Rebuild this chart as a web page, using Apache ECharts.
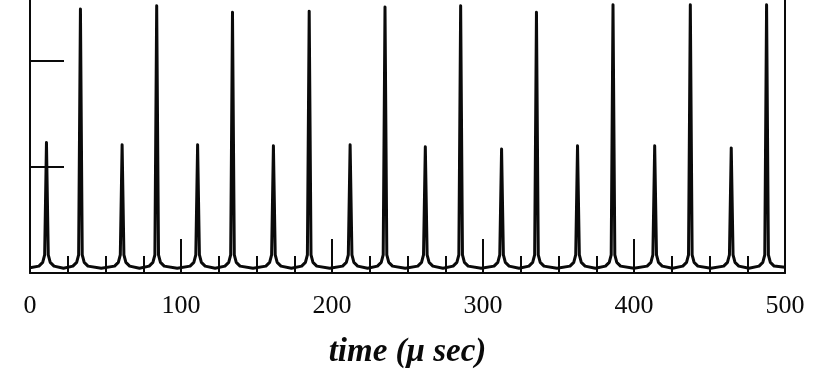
<!DOCTYPE html>
<html>
<head>
<meta charset="utf-8">
<script src="https://cdn.jsdelivr.net/npm/echarts@6/dist/echarts.min.js"></script>
<style>html,body{margin:0;padding:0;background:#fff}#c{width:825px;height:386px}</style>
</head>
<body>
<div id="c"></div>
<script>
// x tick labels (microseconds)
var xTicks = [0, 100, 200, 300, 400, 500];
// y tick positions (unlabelled)
var yTicks = [1, 2];
// Trace: [time (us), signal]
var trace = [
  [0, 0.05],
  [5.9, 0.065], [8.4, 0.10], [9.7, 0.17], [10.9, 1.23], [12.1, 0.17], [13.4, 0.10], [15.9, 0.065],
  [22.2, 0.045],
  [28.4, 0.065], [30.9, 0.10], [32.2, 0.17], [33.4, 2.49], [34.6, 0.17], [35.9, 0.10], [38.4, 0.065],
  [47.2, 0.045],
  [56.0, 0.065], [58.5, 0.10], [59.8, 0.17], [61.0, 1.21], [62.2, 0.17], [63.5, 0.10], [66.0, 0.065],
  [72.5, 0.045],
  [78.9, 0.065], [81.4, 0.10], [82.7, 0.17], [83.9, 2.52], [85.1, 0.17], [86.4, 0.10], [88.9, 0.065],
  [97.5, 0.045],
  [106.0, 0.065], [108.5, 0.10], [109.8, 0.17], [111.0, 1.21], [112.2, 0.17], [113.5, 0.10], [116.0, 0.065],
  [122.6, 0.045],
  [129.1, 0.065], [131.6, 0.10], [132.9, 0.17], [134.1, 2.46], [135.3, 0.17], [136.6, 0.10], [139.1, 0.065],
  [147.7, 0.045],
  [156.2, 0.065], [158.7, 0.10], [160.0, 0.17], [161.2, 1.20], [162.4, 0.17], [163.7, 0.10], [166.2, 0.065],
  [173.1, 0.045],
  [179.9, 0.065], [182.4, 0.10], [183.7, 0.17], [184.9, 2.47], [186.1, 0.17], [187.4, 0.10], [189.9, 0.065],
  [198.5, 0.045],
  [207.0, 0.065], [209.5, 0.10], [210.8, 0.17], [212.0, 1.21], [213.2, 0.17], [214.5, 0.10], [217.0, 0.065],
  [223.6, 0.045],
  [230.1, 0.065], [232.6, 0.10], [233.9, 0.17], [235.1, 2.51], [236.3, 0.17], [237.6, 0.10], [240.1, 0.065],
  [248.5, 0.045],
  [256.8, 0.065], [259.3, 0.10], [260.6, 0.17], [261.8, 1.19], [263.0, 0.17], [264.3, 0.10], [266.8, 0.065],
  [273.5, 0.045],
  [280.2, 0.065], [282.7, 0.10], [284.0, 0.17], [285.2, 2.52], [286.4, 0.17], [287.7, 0.10], [290.2, 0.065],
  [298.8, 0.045],
  [307.3, 0.065], [309.8, 0.10], [311.1, 0.17], [312.3, 1.17], [313.5, 0.17], [314.8, 0.10], [317.3, 0.065],
  [323.9, 0.045],
  [330.4, 0.065], [332.9, 0.10], [334.2, 0.17], [335.4, 2.46], [336.6, 0.17], [337.9, 0.10], [340.4, 0.065],
  [349.0, 0.045],
  [357.6, 0.065], [360.1, 0.10], [361.4, 0.17], [362.6, 1.20], [363.8, 0.17], [365.1, 0.10], [367.6, 0.065],
  [374.4, 0.045],
  [381.1, 0.065], [383.6, 0.10], [384.9, 0.17], [386.1, 2.53], [387.3, 0.17], [388.6, 0.10], [391.1, 0.065],
  [399.9, 0.045],
  [408.7, 0.065], [411.2, 0.10], [412.5, 0.17], [413.7, 1.20], [414.9, 0.17], [416.2, 0.10], [418.7, 0.065],
  [425.5, 0.045],
  [432.3, 0.065], [434.8, 0.10], [436.1, 0.17], [437.3, 2.53], [438.5, 0.17], [439.8, 0.10], [442.3, 0.065],
  [450.9, 0.045],
  [459.4, 0.065], [461.9, 0.10], [463.2, 0.17], [464.4, 1.18], [465.6, 0.17], [466.9, 0.10], [469.4, 0.065],
  [476.1, 0.045],
  [482.8, 0.065], [485.3, 0.10], [486.6, 0.17], [487.8, 2.53], [489.0, 0.17], [490.3, 0.10], [492.8, 0.065],
  [500, 0.055]
];
var xName = 'time (\u03bc sec)';

var chart = echarts.init(document.getElementById('c'), null, {renderer: 'canvas'});
var serif = '"Liberation Serif", "Times New Roman", serif';
chart.setOption({
  animation: false,
  backgroundColor: '#fff',
  grid: {left: 30, right: 40, top: 0, bottom: 113, containLabel: false},
  xAxis: {
    type: 'value', min: xTicks[0], max: xTicks[xTicks.length - 1], interval: 100,
    name: xName, nameLocation: 'middle', nameGap: 63,
    nameTextStyle: {fontFamily: serif, fontStyle: 'italic', fontWeight: 'bold', fontSize: 33, color: '#0a0a0a'},
    axisLine: {show: true, lineStyle: {color: '#0a0a0a', width: 2}},
    axisTick: {show: true, inside: true, length: 34, lineStyle: {color: '#0a0a0a', width: 2}},
    minorTick: {show: true, splitNumber: 4, length: 17, lineStyle: {color: '#0a0a0a', width: 2}},
    axisLabel: {show: true, margin: 20, fontFamily: serif, fontSize: 26, color: '#0a0a0a',
      customValues: xTicks},
    splitLine: {show: false}
  },
  yAxis: [{
    type: 'value', min: 0, max: 2.575, position: 'left',
    axisLine: {show: true, lineStyle: {color: '#0a0a0a', width: 2}},
    axisTick: {show: true, inside: true, length: 34, customValues: yTicks, lineStyle: {color: '#0a0a0a', width: 2}},
    axisLabel: {show: false},
    splitLine: {show: false}
  }, {
    type: 'value', min: 0, max: 2.575, position: 'right',
    axisLine: {show: true, lineStyle: {color: '#0a0a0a', width: 2}},
    axisTick: {show: false},
    axisLabel: {show: false},
    splitLine: {show: false}
  }],
  series: [{
    type: 'line', data: trace, showSymbol: false, symbol: 'none',
    lineStyle: {color: '#0a0a0a', width: 3, join: 'round'},
    yAxisIndex: 0, silent: true
  }]
});
</script>
</body>
</html>
